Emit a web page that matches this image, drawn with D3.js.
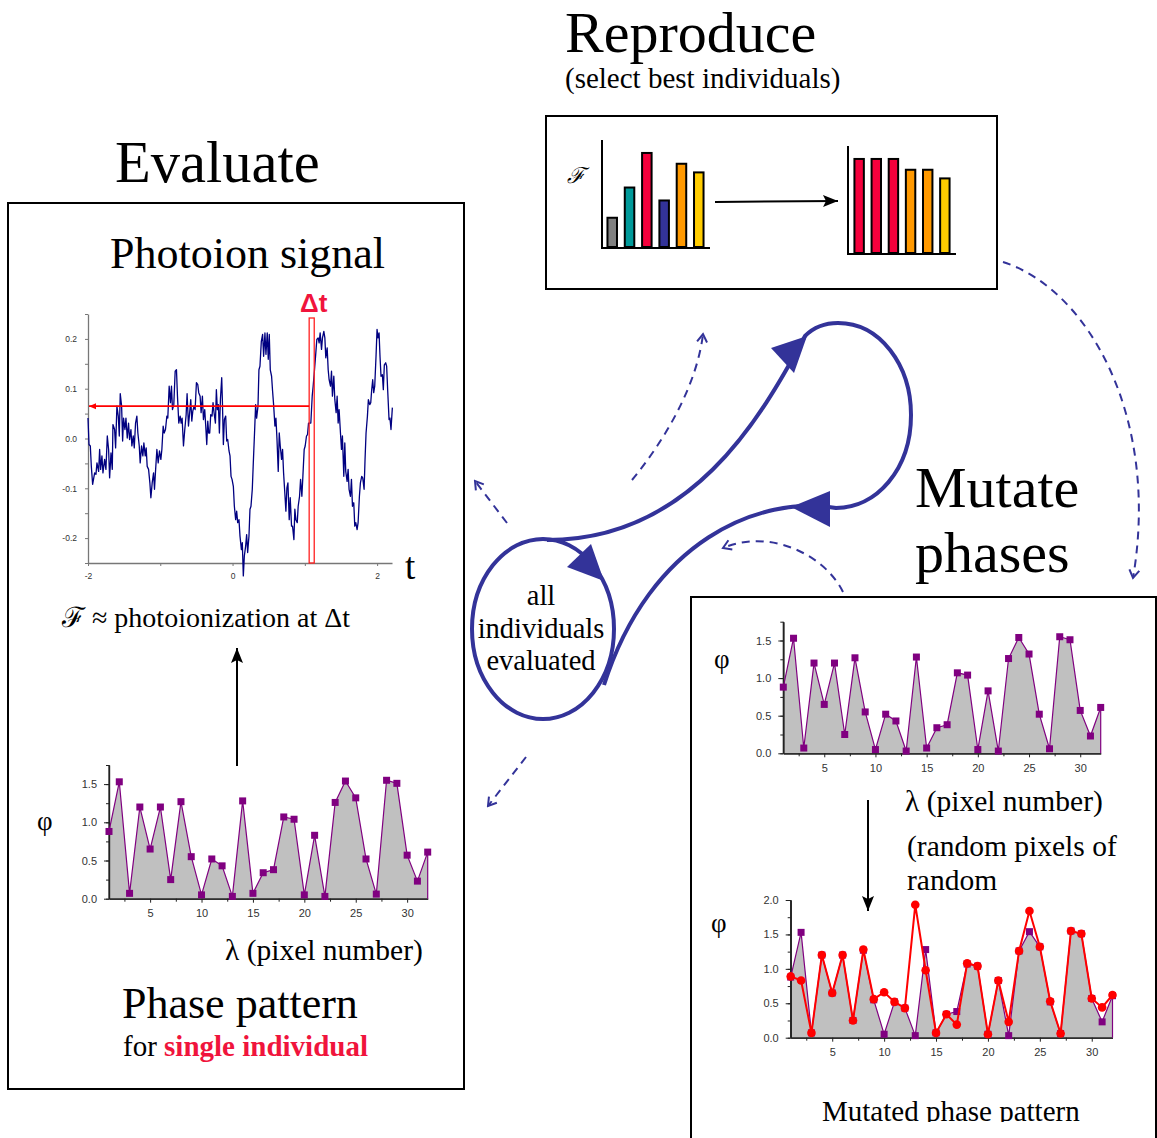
<!DOCTYPE html>
<html>
<head>
<meta charset="utf-8">
<script src="https://cdn.jsdelivr.net/npm/d3@7"></script>
<style>
  html, body { margin: 0; padding: 0; background: #fff; }
  svg { display: block; }
  .serif { font-family: "Liberation Serif", "Times New Roman", serif; fill: #000; }
  .tick text { font-family: "Liberation Sans", Arial, sans-serif; fill: #333; }
</style>
</head>
<body>
<svg id="fig" width="1157" height="1138"></svg>
<script>
// ---------- data ----------
// Photoion signal: time (arb. units) and signal amplitude
const signalT = [-2.000,-1.986,-1.968,-1.954,-1.936,-1.908,-1.890,-1.876,-1.853,-1.839,-1.825,-1.807,-1.793,-1.770,-1.752,-1.733,-1.715,-1.701,-1.682,-1.664,-1.655,-1.632,-1.618,-1.600,-1.581,-1.567,-1.554,-1.535,-1.521,-1.508,-1.489,-1.475,-1.457,-1.439,-1.425,-1.406,-1.393,-1.374,-1.360,-1.342,-1.324,-1.310,-1.291,-1.278,-1.259,-1.241,-1.227,-1.208,-1.195,-1.181,-1.162,-1.144,-1.130,-1.112,-1.093,-1.080,-1.066,-1.047,-1.029,-1.011,-0.992,-0.978,-0.960,-0.946,-0.928,-0.909,-0.896,-0.877,-0.859,-0.845,-0.831,-0.813,-0.794,-0.776,-0.762,-0.744,-0.725,-0.711,-0.698,-0.679,-0.661,-0.642,-0.629,-0.610,-0.596,-0.578,-0.564,-0.550,-0.532,-0.518,-0.500,-0.481,-0.468,-0.449,-0.435,-0.417,-0.403,-0.385,-0.371,-0.357,-0.343,-0.330,-0.316,-0.302,-0.284,-0.270,-0.256,-0.237,-0.224,-0.210,-0.196,-0.182,-0.168,-0.150,-0.141,-0.127,-0.113,-0.095,-0.081,-0.067,-0.049,-0.035,-0.021,-0.007,0.011,0.025,0.043,0.057,0.071,0.089,0.103,0.122,0.135,0.149,0.163,0.181,0.195,0.209,0.227,0.241,0.255,0.273,0.287,0.306,0.319,0.333,0.352,0.365,0.379,0.398,0.416,0.430,0.448,0.462,0.480,0.494,0.508,0.522,0.540,0.554,0.568,0.586,0.600,0.614,0.632,0.646,0.660,0.678,0.692,0.706,0.720,0.738,0.752,0.766,0.784,0.798,0.816,0.830,0.849,0.862,0.876,0.895,0.908,0.927,0.941,0.959,0.973,0.991,1.005,1.023,1.037,1.051,1.069,1.083,1.102,1.115,1.134,1.152,1.166,1.184,1.198,1.212,1.231,1.244,1.263,1.277,1.290,1.309,1.323,1.336,1.355,1.369,1.382,1.401,1.415,1.433,1.447,1.461,1.474,1.493,1.507,1.520,1.539,1.553,1.566,1.585,1.599,1.612,1.631,1.645,1.659,1.677,1.691,1.705,1.723,1.737,1.755,1.769,1.787,1.801,1.820,1.833,1.847,1.866,1.879,1.898,1.912,1.925,1.939,1.953,1.967,1.985,1.999,2.013,2.027,2.040,2.054,2.073,2.086,2.100,2.119,2.132,2.146,2.165,2.178,2.192,2.211];
const signalV = [0.041,-0.012,-0.015,-0.056,-0.092,-0.069,-0.072,-0.049,-0.066,-0.022,-0.062,-0.035,-0.069,-0.042,-0.062,0.005,-0.022,-0.079,-0.029,-0.062,0.028,0.018,-0.019,0.065,0.045,0.005,0.090,0.065,-0.005,0.041,0.018,0.041,0.001,0.031,-0.002,0.018,-0.015,0.005,-0.019,0.031,0.045,0.011,-0.015,-0.049,-0.015,-0.035,-0.009,-0.035,-0.019,-0.056,-0.062,-0.089,-0.119,-0.089,-0.069,-0.102,-0.066,-0.022,-0.049,-0.025,-0.042,-0.022,0.025,0.011,0.018,0.045,0.041,0.105,0.072,0.105,0.058,0.068,0.135,0.138,0.085,0.031,0.045,0.031,0.041,-0.015,0.018,0.048,0.090,0.025,0.048,0.078,0.035,0.055,0.065,0.058,0.112,0.108,0.092,0.085,0.052,0.085,0.038,0.058,0.025,-0.012,0.035,0.011,0.011,0.048,0.045,0.072,0.052,0.031,0.098,0.058,0.068,0.011,0.078,0.122,0.078,-0.012,0.038,0.045,-0.005,-0.002,-0.025,-0.035,-0.076,-0.082,-0.096,-0.136,-0.163,-0.146,-0.169,-0.163,-0.196,-0.223,-0.209,-0.276,-0.236,-0.216,-0.193,-0.229,-0.196,-0.142,-0.136,-0.102,-0.049,0.018,0.068,0.041,0.065,0.138,0.145,0.195,0.209,0.165,0.212,0.169,0.212,0.159,0.209,0.138,0.125,0.095,0.068,0.025,0.041,0.001,-0.066,0.011,-0.015,-0.042,-0.022,-0.069,-0.102,-0.146,-0.099,-0.089,-0.163,-0.119,-0.176,-0.176,-0.203,-0.142,-0.163,-0.169,-0.136,-0.116,-0.082,-0.116,-0.076,-0.022,-0.015,0.005,0.008,0.031,0.031,0.031,0.085,0.105,0.138,0.172,0.199,0.202,0.192,0.212,0.179,0.202,0.215,0.202,0.162,0.182,0.138,0.118,0.105,0.135,0.085,0.125,0.078,0.052,0.085,0.031,0.058,0.011,-0.022,0.005,-0.076,-0.009,-0.066,-0.086,-0.062,-0.102,-0.116,-0.082,-0.136,-0.129,-0.176,-0.169,-0.183,-0.169,-0.116,-0.089,-0.076,-0.079,-0.102,-0.042,0.011,0.045,0.078,0.068,0.072,0.098,0.118,0.092,0.105,0.165,0.219,0.202,0.212,0.165,0.125,0.128,0.098,0.148,0.152,0.145,0.098,0.038,0.041,0.018,0.062];
const signalTicksX = [-2, -1, 0, 1, 2];
const signalTickLabelsX = ["-2", "", "0", "", "2"];
const signalTicksY = [-0.25, -0.2, -0.15, -0.1, -0.05, 0, 0.05, 0.1, 0.15, 0.2, 0.25];
const signalTickLabelsY = ["", "-0.2", "", "-0.1", "", "0.0", "", "0.1", "", "0.2", ""];
const gateWindow = [1.06, 1.13];
const gateLevel = 0.065;

// Spectral phase per SLM pixel
const pixelNumbers = [1,2,3,4,5,6,7,8,9,10,11,12,13,14,15,16,17,18,19,20,21,22,23,24,25,26,27,28,29,30,31,32];
const phaseValues  = [0.88,1.53,0.07,1.20,0.65,1.20,0.25,1.27,0.55,0.05,0.52,0.43,0.03,1.28,0.07,0.34,0.38,1.07,1.04,0.05,0.83,0.03,1.26,1.54,1.32,0.52,0.06,1.55,1.51,0.57,0.23,0.61];
const mutatedValues = [0.89,0.83,0.07,1.20,0.65,1.20,0.25,1.28,0.56,0.66,0.52,0.43,1.93,0.98,0.07,0.34,0.19,1.08,1.04,0.05,0.83,0.23,1.26,1.84,1.32,0.53,0.06,1.55,1.51,0.57,0.44,0.62];
const pixelTicks = [5, 10, 15, 20, 25, 30];
const pixelMinorTicks = [2.5, 7.5, 12.5, 17.5, 22.5, 27.5];

// Fitness of the population before and after selection
const fitnessBefore = [0.28, 0.56, 0.88, 0.44, 0.78, 0.70];
const colorsBefore  = ["#808080", "#009a9a", "#f5003c", "#333399", "#ff9900", "#ffcc00"];
const fitnessAfter  = [0.88, 0.88, 0.88, 0.78, 0.78, 0.70];
const colorsAfter   = ["#f5003c", "#f5003c", "#f5003c", "#ff9900", "#ff9900", "#ffcc00"];

// ---------- drawing ----------
const svg = d3.select("#fig");
const NAVY = "#333399";
const PURPLE = "#800080";
const defs = svg.append("defs");

defs.append("marker").attr("id", "chev")
  .attr("viewBox", "-11 -7 13 14").attr("refX", 0).attr("refY", 0)
  .attr("markerWidth", 13).attr("markerHeight", 14)
  .attr("markerUnits", "userSpaceOnUse").attr("orient", "auto")
  .append("path").attr("d", "M-8,-5L0,0L-8,5")
  .attr("fill", "none").attr("stroke", NAVY).attr("stroke-width", 2);

defs.append("marker").attr("id", "blackHead")
  .attr("viewBox", "-16 -7 17 14").attr("refX", 0).attr("refY", 0)
  .attr("markerWidth", 17).attr("markerHeight", 14)
  .attr("markerUnits", "userSpaceOnUse").attr("orient", "auto")
  .append("path").attr("d", "M-15,-6L0,0L-15,6L-12,0Z").attr("fill", "#000");

defs.append("marker").attr("id", "redHead")
  .attr("viewBox", "-8 -4 9 8").attr("refX", 0).attr("refY", 0)
  .attr("markerWidth", 9).attr("markerHeight", 8)
  .attr("markerUnits", "userSpaceOnUse").attr("orient", "auto")
  .append("path").attr("d", "M-7,-3L0,0L-7,3Z").attr("fill", "#ff0000");

defs.append("clipPath").attr("id", "pageClip")
  .append("rect").attr("x", 0).attr("y", 0).attr("width", 1157).attr("height", 1122);

function serifText(x, y, size, str, opts = {}) {
  return svg.append("text").attr("class", "serif")
    .attr("x", x).attr("y", y)
    .style("font-size", size + "px")
    .attr("text-anchor", opts.anchor || "start")
    .text(str);
}

// ----- panel frames -----
svg.append("rect").attr("x", 8).attr("y", 203).attr("width", 456).attr("height", 886)
  .attr("fill", "none").attr("stroke", "#000").attr("stroke-width", 2);
svg.append("rect").attr("x", 546).attr("y", 116).attr("width", 451).attr("height", 173)
  .attr("fill", "none").attr("stroke", "#000").attr("stroke-width", 2);
svg.append("rect").attr("x", 691).attr("y", 597).attr("width", 465).attr("height", 580)
  .attr("fill", "none").attr("stroke", "#000").attr("stroke-width", 2);

// ----- headings -----
serifText(565, 52, 58, "Reproduce");
serifText(565, 88, 29, "(select best individuals)");
serifText(115, 182, 58.5, "Evaluate");
serifText(915, 507, 58, "Mutate");
serifText(915, 572, 58, "phases");
serifText(110, 268, 44, "Photoion signal");
serifText(122, 1018, 44, "Phase pattern");
{
  const t = serifText(123, 1056, 29, "for ");
  t.append("tspan").attr("fill", "#f0143c").style("font-weight", "bold").text("single individual");
}

// ----- photoion signal -----
{
  const x = d3.scaleLinear().domain([-2, 2.206]).range([88, 392]);
  const y = d3.scaleLinear().domain([-0.25, 0.25]).range([563, 314]);
  const g = svg.append("g");

  const ax = g.append("g").attr("transform", "translate(0,563)")
    .call(d3.axisBottom(x).tickValues(signalTicksX).tickSize(3).tickPadding(7).tickSizeOuter(0)
      .tickFormat((d, i) => signalTickLabelsX[i]));
  const ay = g.append("g").attr("transform", "translate(88,0)")
    .call(d3.axisLeft(y).tickValues(signalTicksY).tickSize(3).tickPadding(8).tickSizeOuter(0)
      .tickFormat((d, i) => signalTickLabelsY[i]));
  [ax, ay].forEach(a => {
    a.select(".domain").attr("stroke", "#777").attr("stroke-width", 1.3);
    a.selectAll(".tick line").attr("stroke", "#777");
    a.selectAll(".tick text").style("font-size", "8.5px");
  });

  const pts = signalT.map((t, i) => [t, signalV[i]]).filter(d => d[1] !== undefined);
  g.append("path").datum(pts)
    .attr("d", d3.line().x(d => x(d[0])).y(d => y(d[1])))
    .attr("fill", "none").attr("stroke", "#000080").attr("stroke-width", 1.3)
    .attr("stroke-linejoin", "round");

  // detection gate
  g.append("rect")
    .attr("x", x(gateWindow[0])).attr("y", 318)
    .attr("width", x(gateWindow[1]) - x(gateWindow[0])).attr("height", 563 - 318)
    .attr("fill", "none").attr("stroke", "#ff2020").attr("stroke-width", 1.3);
  g.append("line")
    .attr("x1", x(gateWindow[0])).attr("x2", x(-2) + 1)
    .attr("y1", y(gateLevel)).attr("y2", y(gateLevel))
    .attr("stroke", "#ff0000").attr("stroke-width", 1.6)
    .attr("marker-end", "url(#redHead)");

  svg.append("text").attr("x", 300).attr("y", 312)
    .style("font-family", "'Liberation Sans', Arial, sans-serif")
    .style("font-size", "26px").style("font-weight", "bold")
    .attr("fill", "#f0143c").text("Δt");
  serifText(405, 579, 37, "t");
}

// fitness definition
serifText(62, 627, 28, "ℱ ≈ photoionization at Δt");

// arrow from phase pattern up to signal
svg.append("line").attr("x1", 237).attr("y1", 766).attr("x2", 237).attr("y2", 648)
  .attr("stroke", "#000").attr("stroke-width", 2).attr("marker-end", "url(#blackHead)");

// ----- phase pattern panels -----
function phasePanel(cfg) {
  const g = svg.append("g");
  const x = d3.scaleLinear().domain([1, 32]).range([cfg.left, cfg.right]);
  const y = d3.scaleLinear().domain([0, cfg.yMax]).range([cfg.bottom, cfg.top]);
  const base = pixelNumbers.map((p, i) => [p, phaseValues[i]]);

  g.append("path").datum(base)
    .attr("d", d3.area().x(d => x(d[0])).y0(y(0)).y1(d => y(d[1])))
    .attr("fill", "#c0c0c0");

  const yMinor = d3.range(0, cfg.yMax + 0.001, 0.25);
  const yMajor = cfg.yTicks;
  const axes = [];
  axes.push(g.append("g").attr("transform", `translate(${cfg.left},0)`)
    .call(d3.axisLeft(y).tickValues(yMinor).tickSize(3).tickFormat("").tickSizeOuter(0)));
  axes.push(g.append("g").attr("transform", `translate(${cfg.left},0)`)
    .call(d3.axisLeft(y).tickValues(yMajor).tickSize(5).tickPadding(7).tickSizeOuter(0)
      .tickFormat(d3.format(".1f"))));
  axes.push(g.append("g").attr("transform", `translate(0,${cfg.bottom})`)
    .call(d3.axisBottom(x).tickValues(pixelMinorTicks).tickSize(3).tickFormat("").tickSizeOuter(0)));
  axes.push(g.append("g").attr("transform", `translate(0,${cfg.bottom})`)
    .call(d3.axisBottom(x).tickValues(pixelTicks).tickSize(4).tickPadding(7).tickSizeOuter(0)));
  axes.forEach(a => {
    a.select(".domain").attr("stroke", "#222").attr("stroke-width", 1.2);
    a.selectAll(".tick line").attr("stroke", "#222");
    a.selectAll(".tick text").style("font-size", "11px");
  });
  g.append("line").attr("x1", cfg.left).attr("x2", cfg.left)
    .attr("y1", y(0)).attr("y2", cfg.axisTop)
    .attr("stroke", "#222").attr("stroke-width", 1.2);

  const last = base[base.length - 1];
  g.append("path").datum(base)
    .attr("d", d3.line().x(d => x(d[0])).y(d => y(d[1])))
    .attr("fill", "none").attr("stroke", PURPLE).attr("stroke-width", 1.2);
  g.append("line").attr("x1", x(last[0])).attr("x2", x(last[0]))
    .attr("y1", y(last[1])).attr("y2", y(0))
    .attr("stroke", PURPLE).attr("stroke-width", 1.2);
  g.selectAll("rect.pt").data(base).join("rect").attr("class", "pt")
    .attr("x", d => x(d[0]) - 3.5).attr("y", d => y(d[1]) - 3.5)
    .attr("width", 7).attr("height", 7).attr("fill", PURPLE);

  if (cfg.mutated) {
    const mut = pixelNumbers.map((p, i) => [p, mutatedValues[i]]);
    g.append("path").datum(mut)
      .attr("d", d3.line().x(d => x(d[0])).y(d => y(d[1])))
      .attr("fill", "none").attr("stroke", "#ff0000").attr("stroke-width", 2);
    g.selectAll("circle.mut").data(mut).join("circle").attr("class", "mut")
      .attr("cx", d => x(d[0])).attr("cy", d => y(d[1])).attr("r", 4.3)
      .attr("fill", "#ff0000");
  }
  return g;
}

phasePanel({ left: 109, right: 427.7, bottom: 898.7, top: 765, yMax: 1.75, axisTop: 765,
  yTicks: [0, 0.5, 1.0, 1.5] });
serifText(37, 830, 27, "φ");
serifText(225, 960, 29.5, "λ (pixel number)");

phasePanel({ left: 783.3, right: 1100.7, bottom: 753.3, top: 621.7, yMax: 1.75, axisTop: 621.7,
  yTicks: [0, 0.5, 1.0, 1.5] });
serifText(714, 668, 27, "φ");
serifText(905, 811, 29.5, "λ (pixel number)");
serifText(907, 856, 29.5, "(random pixels of");
serifText(907, 890, 29.5, "random");
svg.append("line").attr("x1", 868).attr("y1", 800).attr("x2", 868).attr("y2", 911)
  .attr("stroke", "#000").attr("stroke-width", 2).attr("marker-end", "url(#blackHead)");

phasePanel({ left: 790.7, right: 1112.5, bottom: 1037.7, top: 900, yMax: 2.0, axisTop: 900,
  yTicks: [0, 0.5, 1.0, 1.5, 2.0], mutated: true });
serifText(711, 932, 27, "φ");
serifText(822, 1121, 29, "Mutated phase pattern").attr("clip-path", "url(#pageClip)");

// ----- selection (reproduce) bar charts -----
function fitnessBars(cfg, values, colors) {
  const g = svg.append("g");
  const x = d3.scaleBand().domain(d3.range(values.length)).range([cfg.x0, cfg.x1]).paddingInner(0.45).paddingOuter(0.2);
  const y = d3.scaleLinear().domain([0, 1]).range([cfg.bottom, cfg.bottom - 108]);
  g.selectAll("rect").data(values).join("rect")
    .attr("x", (d, i) => x(i)).attr("width", x.bandwidth())
    .attr("y", d => y(d)).attr("height", d => y(0) - y(d) - 1)
    .attr("fill", (d, i) => colors[i]).attr("stroke", "#000").attr("stroke-width", 2);
  g.append("path")
    .attr("d", `M${cfg.axisX},${y(1)}V${y(0)}H${cfg.axisEnd}`)
    .attr("fill", "none").attr("stroke", "#000").attr("stroke-width", 2);
}
fitnessBars({ x0: 604, x1: 707, bottom: 248, axisX: 602, axisEnd: 710 }, fitnessBefore, colorsBefore);
fitnessBars({ x0: 851, x1: 953, bottom: 254, axisX: 848, axisEnd: 956 }, fitnessAfter, colorsAfter);
svg.append("text").attr("x", 567).attr("y", 183)
  .style("font-family", "'DejaVu Serif', serif").style("font-style", "italic")
  .style("font-size", "22px").text("ℱ");
svg.append("line").attr("x1", 715).attr("y1", 202).attr("x2", 838).attr("y2", 201)
  .attr("stroke", "#000").attr("stroke-width", 2).attr("marker-end", "url(#blackHead)");

// ----- evolution cycle -----
{
  const g = svg.append("g").attr("fill", "none").attr("stroke", NAVY).attr("stroke-width", 4);
  g.append("ellipse").attr("cx", 543).attr("cy", 629).attr("rx", 71).attr("ry", 90);

  const loop = d3.path();
  loop.moveTo(547, 540);
  loop.bezierCurveTo(690, 540, 760, 420, 805, 336);
  loop.bezierCurveTo(815, 326, 826, 323, 838, 323);
  loop.bezierCurveTo(880, 323, 911, 365, 911, 415);
  loop.bezierCurveTo(911, 470, 876, 508, 836, 508);
  loop.bezierCurveTo(760, 495, 650, 540, 604, 685);
  g.append("path").attr("d", loop.toString());

  const heads = [
    [[807, 336], [771, 348], [794, 373]],
    [[791, 507], [830, 491], [830, 527]],
    [[604, 581], [567, 567], [591, 544]]
  ];
  svg.append("g").selectAll("path").data(heads).join("path")
    .attr("d", d => "M" + d.join("L") + "Z").attr("fill", NAVY);

  serifText(541, 605, 28.5, "all", { anchor: "middle" });
  serifText(541, 638, 28.5, "individuals", { anchor: "middle" });
  serifText(541, 670, 28.5, "evaluated", { anchor: "middle" });

  // dashed side arrows
  const dashed = [
    "M632,480C665,440,697,385,703,334",
    "M507,523L475,481",
    "M843,592C825,555,770,528,723,548",
    "M1003,262C1090,290,1160,420,1133,578",
    "M526,757L488,806"
  ];
  svg.append("g").selectAll("path").data(dashed).join("path")
    .attr("d", d => d).attr("fill", "none").attr("stroke", NAVY).attr("stroke-width", 2)
    .attr("stroke-dasharray", "8,6").attr("marker-end", "url(#chev)");
}
</script>
</body>
</html>
